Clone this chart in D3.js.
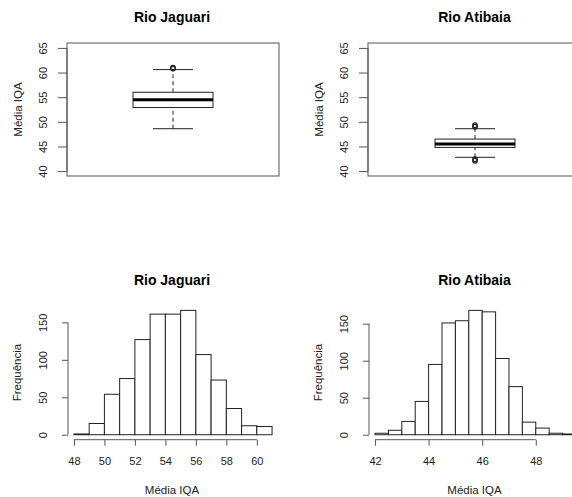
<!DOCTYPE html>
<html>
<head>
<meta charset="utf-8">
<script src="https://cdn.jsdelivr.net/npm/d3@7"></script>
<style>
body { margin: 0; background: #fff; }
svg { display: block; font-family: "Liberation Sans", Arial, sans-serif; }
</style>
</head>
<body>
<div id="chart"></div>
<script>
var titles = ["Rio Jaguari", "Rio Atibaia"];

// boxplot stats: lower whisker, Q1, median, Q3, upper whisker
var boxJaguari = [48.6, 52.9, 54.5, 56.0, 60.6],
    outJaguari = [60.8, 61.0];
var boxAtibaia = [42.8, 44.8, 45.5, 46.5, 48.6],
    outAtibaia = [42.1, 42.4, 49.0, 49.3];
var boxTicks = [40, 45, 50, 55, 60, 65];

// histogram bins (start values) and counts
var binsJaguari = [48, 49, 50, 51, 52, 53, 54, 55, 56, 57, 58, 59, 60],
    countsJaguari = [1, 15, 54, 75, 127, 161, 161, 166, 107, 73, 35, 12, 11];
var binsAtibaia = [42, 42.5, 43, 43.5, 44, 44.5, 45, 45.5, 46, 46.5, 47, 47.5, 48, 48.5, 49],
    countsAtibaia = [2, 6, 18, 45, 95, 151, 154, 168, 166, 103, 65, 17, 9, 2, 1];
var xTicksJaguari = [48, 50, 52, 54, 56, 58, 60],
    xTicksAtibaia = [42, 44, 46, 48];
var yTicksHist = [0, 50, 100, 150];

var W = 572, H = 497;
var frameCol = "#555", lineCol = "#222";

var svg = d3.select("#chart").append("svg")
    .attr("width", W)
    .attr("height", H);

// panel layout (x positions of plot regions)
var panels = [
    {left: 67, right: 279, title: titles[0], box: boxJaguari, out: outJaguari,
     bins: binsJaguari, counts: countsJaguari, binW: 1, xt: xTicksJaguari},
    {left: 368, right: 583, title: titles[1], box: boxAtibaia, out: outAtibaia,
     bins: binsAtibaia, counts: countsAtibaia, binW: 0.5, xt: xTicksAtibaia}
];

var boxTop = 43, boxBottom = 176;
var histTop = 305.4, histBottom = 439.7;

panels.forEach(function(p) {
    var cx = (p.left + p.right) / 2;

    // ---------- boxplot ----------
    var g = svg.append("g");
    var y = d3.scaleLinear().domain([39, 66]).range([boxBottom, boxTop]);

    g.append("text")
        .attr("x", cx - 1)
        .attr("y", 22)
        .attr("text-anchor", "middle")
        .style("font-size", "14px")
        .style("font-weight", "bold")
        .text(p.title);

    g.append("rect")
        .attr("x", p.left)
        .attr("y", boxTop)
        .attr("width", p.right - p.left)
        .attr("height", boxBottom - boxTop)
        .attr("fill", "none")
        .attr("stroke", frameCol);

    var yAxis = d3.axisLeft(y).tickValues(boxTicks).tickSize(9).tickSizeOuter(0);
    var ga = g.append("g")
        .attr("transform", "translate(" + p.left + ",0)")
        .call(yAxis);
    ga.select(".domain")
        .attr("d", "M0," + y(40) + "V" + y(65))
        .attr("stroke", frameCol);
    ga.selectAll(".tick line").attr("stroke", frameCol);
    ga.selectAll(".tick text")
        .attr("x", 0).attr("y", 0).attr("dy", "0.35em")
        .attr("text-anchor", "middle")
        .attr("transform", "translate(-24,0) rotate(-90)")
        .style("font-size", "11px")
        .attr("fill", "#222");

    g.append("text")
        .attr("transform", "translate(" + (p.left - 49) + "," + y(52.5) + ") rotate(-90)")
        .attr("text-anchor", "middle")
        .attr("dy", "0.35em")
        .style("font-size", "11.5px")
        .attr("fill", "#222")
        .text("Média IQA");

    var bx = cx + (p.left === 67 ? 0 : -0.5);
    var bw = 40, cw = 20;
    var s = p.box;
    // whiskers
    g.append("line").attr("x1", bx).attr("x2", bx).attr("y1", y(s[0])).attr("y2", y(s[1]))
        .attr("stroke", lineCol).attr("stroke-dasharray", "4,3");
    g.append("line").attr("x1", bx).attr("x2", bx).attr("y1", y(s[3])).attr("y2", y(s[4]))
        .attr("stroke", lineCol).attr("stroke-dasharray", "4,3");
    g.append("line").attr("x1", bx - cw).attr("x2", bx + cw).attr("y1", y(s[0])).attr("y2", y(s[0]))
        .attr("stroke", lineCol);
    g.append("line").attr("x1", bx - cw).attr("x2", bx + cw).attr("y1", y(s[4])).attr("y2", y(s[4]))
        .attr("stroke", lineCol);
    g.append("rect")
        .attr("x", bx - bw).attr("y", y(s[3]))
        .attr("width", bw * 2).attr("height", y(s[1]) - y(s[3]))
        .attr("fill", "#fff").attr("stroke", lineCol);
    g.append("line").attr("x1", bx - bw).attr("x2", bx + bw).attr("y1", y(s[2])).attr("y2", y(s[2]))
        .attr("stroke", "#000").attr("stroke-width", 3);
    g.selectAll(".out")
        .data(p.out)
        .enter().append("circle")
        .attr("cx", bx)
        .attr("cy", function(d) { return y(d); })
        .attr("r", 2.3)
        .attr("fill", "none")
        .attr("stroke", lineCol)
        .attr("stroke-width", 1.2);

    // ---------- histogram ----------
    var h = svg.append("g");
    var lo = p.bins[0], hi = p.bins[p.bins.length - 1] + p.binW;
    var ext = (hi - lo) * 0.04;
    var x = d3.scaleLinear().domain([lo - ext, hi + ext]).range([p.left - 1, p.right + 1]);
    var ymax = d3.max(p.counts);
    var yh = d3.scaleLinear().domain([-0.04 * ymax, 1.04 * ymax]).range([histBottom, histTop]);

    h.append("text")
        .attr("x", cx - 1)
        .attr("y", 285)
        .attr("text-anchor", "middle")
        .style("font-size", "14px")
        .style("font-weight", "bold")
        .text(p.title);

    h.selectAll(".bar")
        .data(p.counts)
        .enter().append("rect")
        .attr("x", function(d, i) { return x(p.bins[i]); })
        .attr("y", function(d) { return yh(d); })
        .attr("width", x(p.binW) - x(0))
        .attr("height", function(d) { return yh(0) - yh(d); })
        .attr("fill", "#fff")
        .attr("stroke", lineCol);

    var xAxis = d3.axisBottom(x).tickValues(p.xt).tickSize(6).tickSizeOuter(0)
        .tickFormat(d3.format("d"));
    var gx = h.append("g")
        .attr("transform", "translate(0," + histBottom + ")")
        .call(xAxis);
    gx.select(".domain")
        .attr("d", "M" + x(p.xt[0]) + ",0H" + x(p.xt[p.xt.length - 1]))
        .attr("stroke", frameCol);
    gx.selectAll(".tick line").attr("stroke", frameCol);
    gx.selectAll(".tick text")
        .attr("y", 18)
        .style("font-size", "11px")
        .attr("fill", "#222");

    var yhAxis = d3.axisLeft(yh).tickValues(yTicksHist).tickSize(6).tickSizeOuter(0);
    var gy = h.append("g")
        .attr("transform", "translate(" + (p.left + 1) + ",0)")
        .call(yhAxis);
    gy.select(".domain")
        .attr("d", "M0," + yh(0) + "V" + yh(150))
        .attr("stroke", frameCol);
    gy.selectAll(".tick line").attr("stroke", frameCol);
    gy.selectAll(".tick text")
        .attr("x", 0).attr("y", 0).attr("dy", "0.35em")
        .attr("text-anchor", "middle")
        .attr("transform", "translate(-25,0) rotate(-90)")
        .style("font-size", "11px")
        .attr("fill", "#222");

    h.append("text")
        .attr("transform", "translate(" + (p.left - 50) + "," + ((histTop + histBottom) / 2) + ") rotate(-90)")
        .attr("text-anchor", "middle")
        .attr("dy", "0.35em")
        .style("font-size", "11.5px")
        .attr("fill", "#222")
        .text("Frequência");

    h.append("text")
        .attr("x", cx - 1)
        .attr("y", 494)
        .attr("text-anchor", "middle")
        .style("font-size", "11.5px")
        .attr("fill", "#222")
        .text("Média IQA");
});
</script>
</body>
</html>
